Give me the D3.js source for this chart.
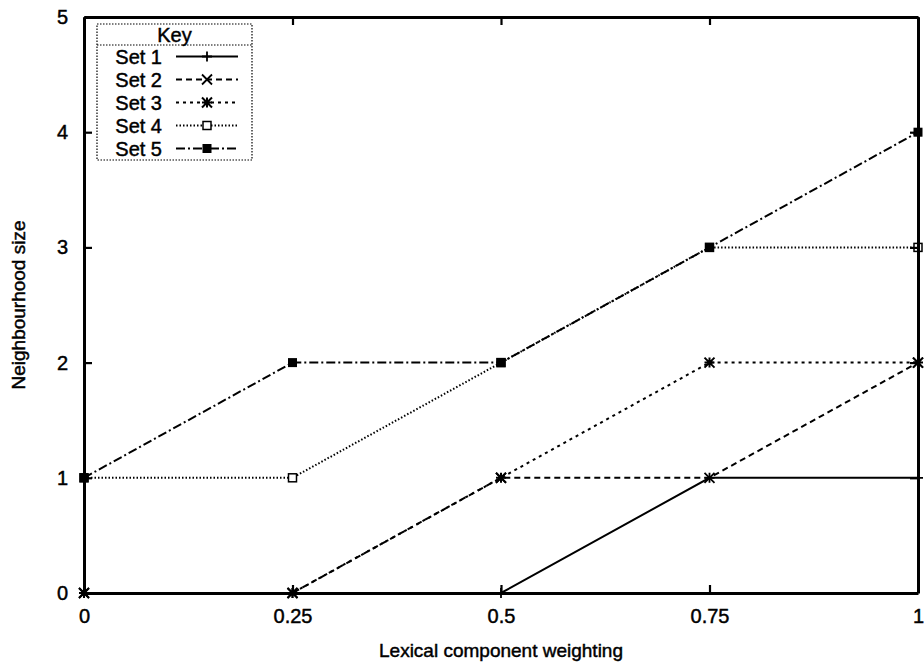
<!DOCTYPE html>
<html>
<head>
<meta charset="utf-8">
<script src="https://cdn.jsdelivr.net/npm/d3@7"></script>
<style>
  html, body { margin: 0; padding: 0; background: #fff; }
  svg { display: block; }
  text { font-family: "Liberation Sans", Arial, Helvetica, sans-serif; fill: #000; stroke: #000; stroke-width: 0.45px; }
</style>
</head>
<body>
<svg id="chart" width="924" height="667"></svg>
<script>
// Lexical component weighting values (x) and neighbourhood sizes per set
const weightings = [0, 0.25, 0.5, 0.75, 1];
const set1 = [0, 0, 0, 1, 1];
const set2 = [0, 0, 1, 1, 2];
const set3 = [0, 0, 1, 2, 2];
const set4 = [1, 1, 2, 3, 3];
const set5 = [1, 2, 2, 3, 4];
const seriesNames = ["Set 1", "Set 2", "Set 3", "Set 4", "Set 5"];
const xTickValues = [0, 0.25, 0.5, 0.75, 1];
const xTickLabels = ["0", "0.25", "0.5", "0.75", "1"];
const yTickValues = [0, 1, 2, 3, 4, 5];

const svg = d3.select("#chart");
const plotLeft = 84, plotRight = 918, plotTop = 17, plotBottom = 593;

const x = d3.scaleLinear().domain([0, 1]).range([plotLeft, plotRight]);
const y = d3.scaleLinear().domain([0, 5]).range([plotBottom, plotTop]);

// per-series stroke patterns and point symbols (gnuplot style 1..5)
const styles = [
  { dash: null,          point: "plus" },
  { dash: "6,4",         point: "cross" },
  { dash: "3,4",         point: "star" },
  { dash: "1.5,2",       point: "openSquare" },
  { dash: "9,3,2,3",     point: "filledSquare" }
];

const seriesValues = [set1, set2, set3, set4, set5];
const series = seriesNames.map((name, i) => ({
  name,
  style: styles[i],
  points: weightings.map((w, j) => ({ x: w, y: seriesValues[i][j] }))
}));

function drawPoint(g, type, cx, cy, s) {
  const h = s / 2;
  if (type === "plus") {
    g.append("path").attr("d", `M${cx - h},${cy}H${cx + h}M${cx},${cy - h}V${cy + h}`)
      .attr("stroke", "#000").attr("stroke-width", 1.8).attr("fill", "none");
  } else if (type === "cross") {
    g.append("path").attr("d", `M${cx - h},${cy - h}L${cx + h},${cy + h}M${cx - h},${cy + h}L${cx + h},${cy - h}`)
      .attr("stroke", "#000").attr("stroke-width", 1.8).attr("fill", "none");
  } else if (type === "star") {
    g.append("path").attr("d", `M${cx - h},${cy}H${cx + h}M${cx},${cy - h}V${cy + h}M${cx - h},${cy - h}L${cx + h},${cy + h}M${cx - h},${cy + h}L${cx + h},${cy - h}`)
      .attr("stroke", "#000").attr("stroke-width", 2).attr("fill", "none");
  } else if (type === "openSquare") {
    g.append("rect").attr("x", cx - h * 0.8).attr("y", cy - h * 0.8)
      .attr("width", s * 0.8).attr("height", s * 0.8)
      .attr("fill", "#fff").attr("stroke", "#000").attr("stroke-width", 1.5);
  } else if (type === "filledSquare") {
    g.append("rect").attr("x", cx - h * 0.9).attr("y", cy - h * 0.9)
      .attr("width", s * 0.9).attr("height", s * 0.9)
      .attr("fill", "#000").attr("stroke", "none");
  }
}

// series lines and point markers
const line = d3.line().x(d => x(d.x)).y(d => y(d.y));
const plot = svg.append("g");
series.forEach(s => {
  plot.append("path")
    .datum(s.points)
    .attr("d", line)
    .attr("fill", "none")
    .attr("stroke", "#000")
    .attr("stroke-width", 2)
    .attr("stroke-dasharray", s.style.dash);
  s.points.forEach(p => drawPoint(plot, s.style.point, x(p.x), y(p.y), 10));
});

// frame with inward ticks on all four sides
const tickLen = 8;
const frame = svg.append("g");
const bottomAxis = d3.axisBottom(x).tickValues(xTickValues).tickSizeInner(-tickLen).tickSizeOuter(0)
  .tickFormat((d, i) => xTickLabels[i]).tickPadding(16);
const topAxis = d3.axisTop(x).tickValues(xTickValues).tickSizeInner(-tickLen).tickSizeOuter(0).tickFormat("");
const leftAxis = d3.axisLeft(y).tickValues(yTickValues).tickSizeInner(-tickLen).tickSizeOuter(0)
  .tickFormat(d3.format("d")).tickPadding(16);
const rightAxis = d3.axisRight(y).tickValues(yTickValues).tickSizeInner(-tickLen).tickSizeOuter(0).tickFormat("");

function styleAxis(g) {
  g.select(".domain").attr("stroke", "#000").attr("stroke-width", 3);
  g.selectAll(".tick line").attr("stroke", "#000").attr("stroke-width", 2.2);
  g.selectAll(".tick text").attr("font-size", 20).attr("font-family", "Liberation Sans, Arial, sans-serif").attr("fill", "#000");
}

frame.append("g").attr("transform", `translate(0,${plotBottom})`).call(bottomAxis).call(styleAxis);
frame.append("g").attr("transform", `translate(0,${plotTop})`).call(topAxis).call(styleAxis);
frame.append("g").attr("transform", `translate(${plotLeft},0)`).call(leftAxis).call(styleAxis);
frame.append("g").attr("transform", `translate(${plotRight},0)`).call(rightAxis).call(styleAxis);

// axis titles
svg.append("text")
  .attr("x", (plotLeft + plotRight) / 2).attr("y", 657)
  .attr("text-anchor", "middle").attr("font-size", 19)
  .text("Lexical component weighting");
svg.append("text")
  .attr("transform", `translate(25,${(plotTop + plotBottom) / 2}) rotate(-90)`)
  .attr("text-anchor", "middle").attr("font-size", 19)
  .text("Neighbourhood size");

// key box
const key = svg.append("g");
const kx0 = 97, kx1 = 252, ky0 = 24, kySep = 45, rowH = 23;
key.append("rect")
  .attr("x", kx0).attr("y", ky0)
  .attr("width", kx1 - kx0).attr("height", kySep - ky0 + rowH * seriesNames.length)
  .attr("fill", "#fff").attr("stroke", "#000").attr("stroke-width", 1.2)
  .attr("stroke-dasharray", "1.5,1.5");
key.append("line")
  .attr("x1", kx0).attr("x2", kx1).attr("y1", kySep).attr("y2", kySep)
  .attr("stroke", "#000").attr("stroke-width", 1.2).attr("stroke-dasharray", "1.5,1.5");
key.append("text")
  .attr("x", (kx0 + kx1) / 2).attr("y", 42)
  .attr("text-anchor", "middle").attr("font-size", 20)
  .text("Key");
series.forEach((s, i) => {
  const cy = kySep + rowH * i + rowH / 2;
  key.append("text")
    .attr("x", 162).attr("y", cy + 7)
    .attr("text-anchor", "end").attr("font-size", 20)
    .text(s.name);
  key.append("line")
    .attr("x1", 176).attr("x2", 238).attr("y1", cy).attr("y2", cy)
    .attr("stroke", "#000").attr("stroke-width", 2)
    .attr("stroke-dasharray", s.style.dash);
  drawPoint(key, s.style.point, 207, cy, 10);
});
</script>
</body>
</html>
